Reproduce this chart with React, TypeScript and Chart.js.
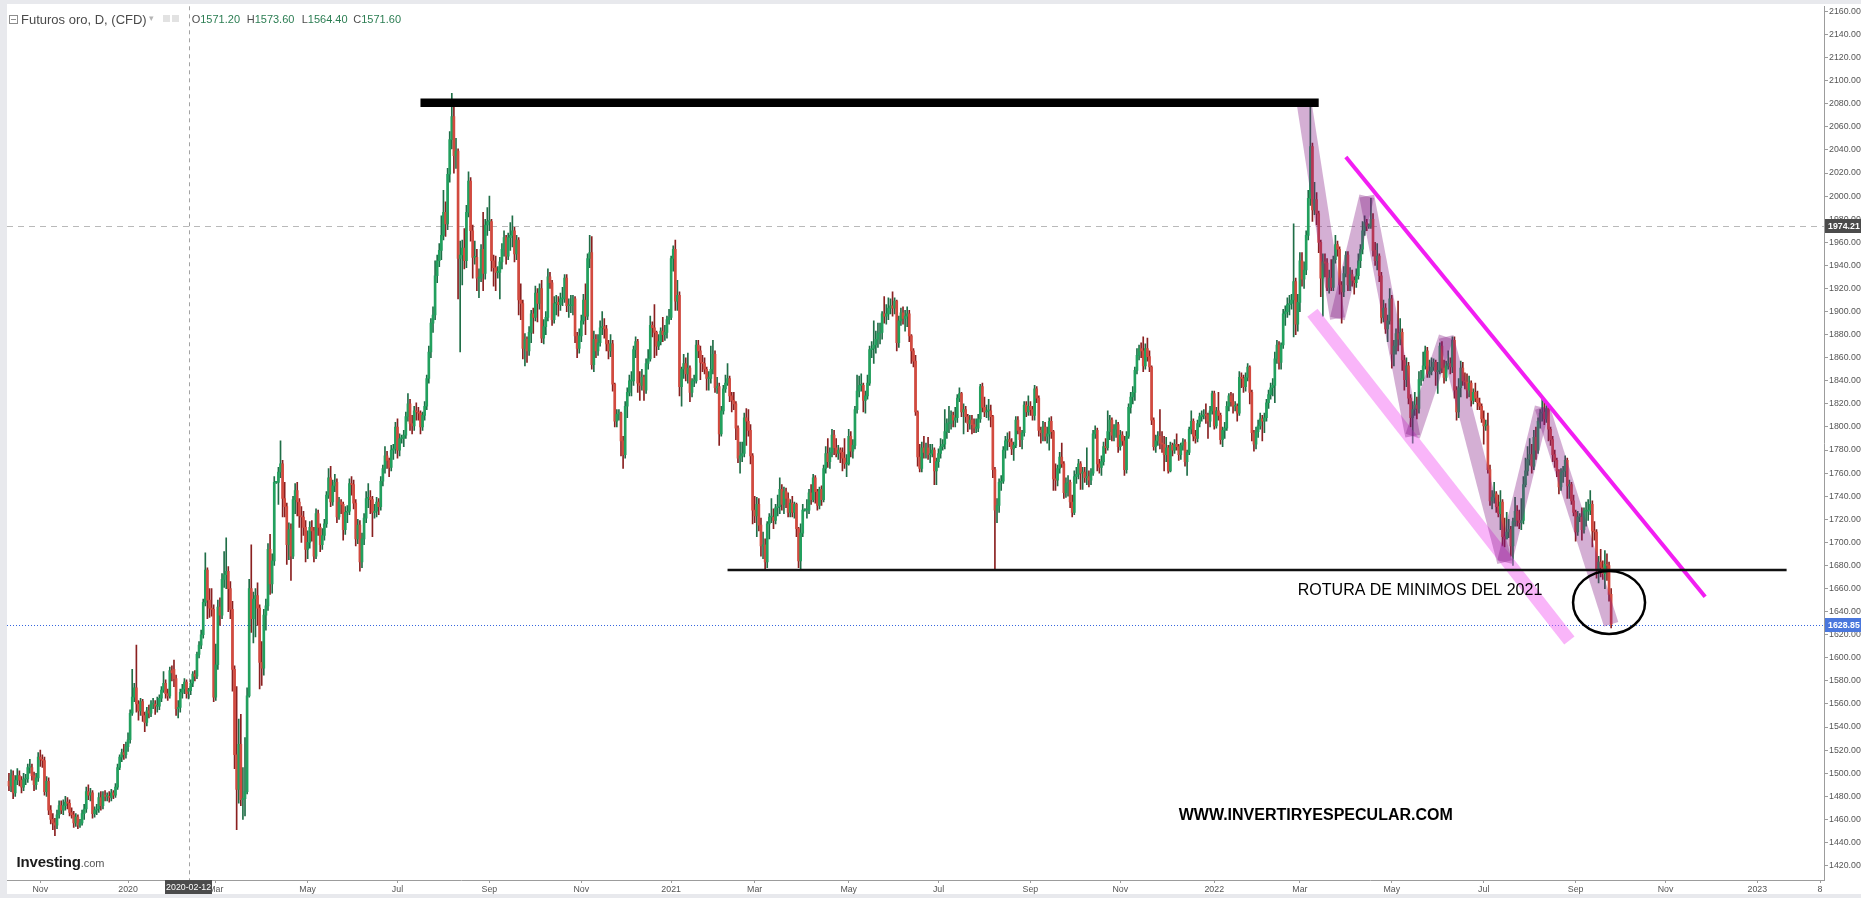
import React, { useEffect, useRef } from "react";
import { Chart, registerables } from "chart.js";

Chart.register(...registerables);

// ---------------- DATA (Futuros oro, D, CFD) ----------------
const FIRST_DAY = "2019-10-11";
const LAST_CALENDAR_DAY = "2023-03-31";

// 2019: Oct 11 .. Dec 31
const open2019 = [
  1493, 1489, 1498, 1483, 1494, 1498, 1494, 1488, 1495, 1495, 1505, 1505, 1498, 1490, 1496,
  1514, 1512, 1511, 1484, 1493, 1468, 1460, 1457, 1455, 1464, 1472, 1468, 1472, 1475, 1474, 1466, 1464, 1457, 1462, 1455, 1457,
  1465, 1469, 1484, 1481, 1483, 1465, 1468, 1469, 1479, 1472, 1481, 1480, 1480, 1479, 1483, 1481, 1488, 1505, 1514, 1518, 1516,
];
const high2019 = [
  1500, 1503, 1502, 1498, 1504, 1502, 1497, 1500, 1499, 1508, 1512, 1508, 1501, 1500, 1518,
  1520, 1516, 1514, 1497, 1496, 1472, 1465, 1461, 1468, 1476, 1476, 1477, 1480, 1479, 1477, 1470, 1467, 1465, 1464, 1460, 1468,
  1473, 1488, 1490, 1487, 1485, 1471, 1473, 1483, 1484, 1484, 1485, 1483, 1484, 1486, 1485, 1491, 1508, 1516, 1521, 1525, 1527,
];
const low2019 = [
  1485, 1484, 1478, 1480, 1490, 1489, 1483, 1485, 1490, 1492, 1500, 1494, 1485, 1486, 1493,
  1506, 1505, 1481, 1480, 1464, 1456, 1451, 1446, 1452, 1461, 1465, 1464, 1468, 1469, 1463, 1461, 1453, 1454, 1452, 1453, 1455,
  1460, 1466, 1477, 1476, 1461, 1462, 1464, 1466, 1468, 1469, 1476, 1476, 1475, 1476, 1478, 1479, 1486, 1503, 1510, 1512, 1513,
];
const close2019 = [
  1489, 1498, 1483, 1494, 1498, 1494, 1488, 1495, 1495, 1505, 1505, 1498, 1490, 1496, 1514,
  1512, 1511, 1484, 1493, 1468, 1460, 1457, 1455, 1464, 1472, 1468, 1472, 1475, 1474, 1466, 1464, 1457, 1462, 1455, 1457, 1465,
  1469, 1484, 1481, 1483, 1465, 1468, 1469, 1479, 1472, 1481, 1480, 1480, 1479, 1483, 1481, 1488, 1505, 1514, 1518, 1516, 1523,
];

// 2020
const open2020 = [
  1523, 1529, 1552, 1566, 1574, 1560, 1554, 1562, 1550, 1544, 1554, 1552, 1560, 1560, 1558, 1558, 1565, 1572, 1578, 1569, 1567, 1589,
  1590, 1582, 1556, 1557, 1570, 1573, 1579, 1571.2, 1571.6, 1578, 1586, 1584, 1603, 1611, 1620, 1648, 1676, 1650, 1643, 1642,
  1566, 1594, 1644, 1637, 1668, 1672, 1675, 1660, 1642, 1590, 1516, 1486, 1525, 1477, 1478, 1484, 1567, 1660, 1634, 1651, 1654, 1643,
  1596, 1591, 1637, 1645, 1694, 1664, 1684, 1752, 1752, 1761, 1768, 1738, 1731, 1698, 1711, 1688, 1737, 1745, 1735, 1723, 1722, 1713,
  1694, 1700, 1713, 1710, 1688, 1725, 1713, 1698, 1706, 1716, 1741, 1756, 1735, 1749, 1752, 1722, 1735, 1733, 1711, 1726, 1727,
  1751, 1750, 1734, 1703, 1715, 1683, 1703, 1721, 1738, 1739, 1737, 1726, 1727, 1735, 1731, 1753, 1764, 1775, 1771, 1765, 1780, 1781,
  1800, 1780, 1790, 1790, 1793, 1809, 1820, 1803, 1801, 1814, 1813, 1812, 1800, 1810, 1818, 1842, 1865, 1890, 1897, 1931, 1944, 1953, 1966,
  1986, 1976, 2019, 2049, 2069, 2035, 2039, 1946, 1949, 1955, 1944, 1986, 2013, 1970, 1947, 1947, 1929, 1929, 1954, 1933, 1975,
  1978, 1978, 1944, 1938, 1934, 1934, 1943, 1954, 1964, 1948, 1964, 1966, 1970, 1950, 1962, 1910, 1907, 1868, 1876, 1866, 1882, 1898,
  1895, 1916, 1907, 1920, 1877, 1887, 1895, 1930, 1925, 1893, 1907, 1908, 1906, 1911, 1911, 1929, 1905, 1905, 1905, 1911, 1879, 1868,
  1879, 1892, 1910, 1896, 1946, 1951, 1854, 1876, 1866, 1873, 1886, 1887, 1885, 1872, 1866, 1872, 1837, 1805, 1811, 1812, 1788,
  1776, 1818, 1830, 1840, 1840, 1867, 1874, 1838, 1836, 1843, 1832, 1855, 1859, 1888, 1886, 1882, 1870, 1874, 1883, 1880, 1882, 1893,
];
const high2020 = [
  1535, 1555, 1590, 1578, 1611, 1563, 1565, 1564, 1553, 1557, 1559, 1563, 1565, 1563, 1566, 1568, 1575, 1588, 1581, 1573, 1592, 1593,
  1598, 1585, 1563, 1573, 1577, 1582, 1581, 1573.6, 1581, 1588, 1589, 1605, 1614, 1624, 1651, 1691, 1678, 1660, 1660, 1646,
  1612, 1650, 1652, 1673, 1692, 1704, 1679, 1666, 1649, 1593, 1575, 1547, 1551, 1505, 1531, 1574, 1668, 1698, 1657, 1660, 1665, 1646,
  1614, 1642, 1651, 1699, 1707, 1690, 1757, 1753, 1765, 1788, 1771, 1752, 1734, 1717, 1716, 1740, 1751, 1752, 1738, 1731, 1727, 1719,
  1710, 1718, 1719, 1713, 1729, 1728, 1716, 1712, 1720, 1744, 1764, 1766, 1754, 1759, 1755, 1739, 1737, 1735, 1731, 1732, 1755,
  1757, 1754, 1737, 1720, 1719, 1708, 1725, 1744, 1751, 1745, 1740, 1733, 1739, 1738, 1757, 1767, 1783, 1779, 1773, 1784, 1785, 1804,
  1807, 1794, 1793, 1797, 1813, 1829, 1824, 1810, 1818, 1821, 1817, 1814, 1813, 1822, 1845, 1870, 1894, 1904, 1944, 1949, 1959, 1983, 2005,
  1995, 2024, 2056, 2089, 2077, 2050, 2041, 1961, 1962, 1972, 1992, 2021, 2016, 1975, 1961, 1954, 1937, 1958, 1986, 1980, 1990,
  2000, 1980, 1949, 1948, 1939, 1947, 1959, 1970, 1966, 1968, 1977, 1983, 1973, 1966, 1964, 1924, 1910, 1881, 1878, 1887, 1901, 1903,
  1922, 1920, 1924, 1927, 1893, 1900, 1937, 1934, 1927, 1913, 1914, 1913, 1916, 1921, 1932, 1932, 1911, 1914, 1914, 1913, 1882, 1885,
  1897, 1915, 1924, 1950, 1966, 1965, 1883, 1880, 1880, 1892, 1900, 1894, 1888, 1875, 1880, 1875, 1838, 1815, 1815, 1813, 1792,
  1822, 1834, 1845, 1848, 1870, 1878, 1876, 1848, 1850, 1845, 1859, 1867, 1896, 1891, 1906, 1883, 1880, 1886, 1895, 1888, 1896, 1902,
];
const low2020 = [
  1519, 1526, 1550, 1562, 1553, 1546, 1550, 1545, 1536, 1541, 1548, 1549, 1556, 1551, 1553, 1555, 1562, 1570, 1565, 1563, 1565, 1580,
  1575, 1550, 1548, 1553, 1565, 1569, 1565, 1564.4, 1568, 1575, 1580, 1582, 1600, 1608, 1617, 1645, 1634, 1635, 1636, 1562,
  1563, 1590, 1628, 1634, 1661, 1660, 1640, 1634, 1571, 1504, 1451, 1474, 1472, 1460, 1463, 1482, 1566, 1622, 1613, 1618, 1628, 1573,
  1576, 1585, 1624, 1641, 1655, 1656, 1680, 1751, 1733, 1756, 1722, 1722, 1681, 1685, 1667, 1686, 1725, 1723, 1713, 1700, 1706, 1683,
  1686, 1695, 1701, 1683, 1686, 1706, 1692, 1694, 1702, 1713, 1738, 1731, 1732, 1744, 1717, 1720, 1725, 1702, 1707, 1717, 1724,
  1741, 1729, 1697, 1699, 1675, 1678, 1698, 1717, 1730, 1725, 1705, 1721, 1722, 1724, 1728, 1749, 1760, 1764, 1757, 1762, 1772, 1777,
  1773, 1775, 1786, 1783, 1790, 1805, 1797, 1794, 1797, 1806, 1806, 1794, 1797, 1806, 1815, 1838, 1860, 1882, 1893, 1925, 1939, 1945, 1962,
  1965, 1971, 2012, 2041, 2020, 2024, 1911, 1865, 1923, 1937, 1938, 1982, 1961, 1929, 1941, 1918, 1912, 1926, 1918, 1928, 1966,
  1970, 1935, 1922, 1918, 1929, 1911, 1937, 1948, 1941, 1945, 1953, 1956, 1943, 1945, 1897, 1893, 1859, 1853, 1856, 1862, 1873, 1881,
  1892, 1891, 1902, 1873, 1872, 1880, 1892, 1920, 1888, 1890, 1897, 1896, 1901, 1905, 1908, 1900, 1895, 1899, 1897, 1873, 1860, 1864,
  1874, 1889, 1880, 1893, 1938, 1850, 1848, 1860, 1862, 1870, 1880, 1877, 1866, 1859, 1861, 1831, 1800, 1800, 1806, 1775, 1764,
  1773, 1808, 1827, 1827, 1836, 1860, 1830, 1823, 1832, 1823, 1829, 1850, 1857, 1878, 1860, 1862, 1867, 1871, 1874, 1875, 1877, 1889,
];
const close2020 = [
  1529, 1552, 1566, 1574, 1560, 1554, 1562, 1550, 1544, 1554, 1552, 1560, 1560, 1558, 1558, 1565, 1572, 1578, 1569, 1567, 1589, 1587,
  1582, 1556, 1557, 1570, 1573, 1579, 1569, 1571.6, 1578, 1586, 1584, 1603, 1611, 1620, 1648, 1676, 1650, 1643, 1642, 1566,
  1594, 1644, 1637, 1668, 1672, 1675, 1660, 1642, 1590, 1516, 1486, 1525, 1477, 1478, 1484, 1567, 1660, 1634, 1651, 1654, 1643, 1596,
  1591, 1637, 1645, 1694, 1664, 1684, 1752, 1752, 1761, 1768, 1738, 1731, 1698, 1711, 1688, 1737, 1745, 1735, 1723, 1722, 1713, 1694,
  1700, 1713, 1710, 1688, 1725, 1713, 1698, 1706, 1716, 1741, 1756, 1735, 1749, 1752, 1722, 1735, 1733, 1711, 1726, 1727, 1751,
  1750, 1734, 1703, 1715, 1683, 1703, 1721, 1738, 1739, 1737, 1726, 1727, 1735, 1731, 1753, 1764, 1775, 1771, 1765, 1780, 1781, 1800,
  1780, 1790, 1790, 1793, 1809, 1820, 1803, 1801, 1814, 1813, 1812, 1800, 1810, 1818, 1842, 1865, 1890, 1897, 1931, 1944, 1953, 1966, 1986,
  1976, 2019, 2049, 2069, 2035, 2039, 1946, 1949, 1955, 1944, 1986, 2013, 1970, 1947, 1947, 1929, 1929, 1954, 1933, 1975, 1978,
  1978, 1944, 1938, 1934, 1934, 1943, 1954, 1964, 1948, 1964, 1966, 1970, 1950, 1962, 1910, 1907, 1868, 1876, 1866, 1882, 1898, 1895,
  1916, 1907, 1920, 1877, 1887, 1895, 1930, 1925, 1893, 1907, 1908, 1906, 1911, 1911, 1929, 1905, 1905, 1905, 1911, 1879, 1868, 1879,
  1892, 1910, 1896, 1946, 1951, 1854, 1876, 1866, 1873, 1886, 1887, 1885, 1872, 1866, 1872, 1837, 1805, 1811, 1812, 1788, 1776,
  1818, 1830, 1840, 1840, 1867, 1874, 1838, 1836, 1843, 1832, 1855, 1859, 1888, 1886, 1882, 1870, 1874, 1883, 1880, 1882, 1893, 1895,
];

// 2021
const open2021 = [
  1895, 1946, 1954, 1909, 1914, 1835, 1850, 1855, 1846, 1851, 1830, 1840, 1840, 1871, 1866, 1856, 1855, 1850, 1842, 1842,
  1850, 1863, 1834, 1835, 1794, 1814, 1833, 1838, 1842, 1827, 1823, 1820, 1799, 1773, 1775, 1777, 1808, 1805, 1797, 1775,
  1728, 1723, 1733, 1715, 1697, 1698, 1683, 1716, 1722, 1722, 1719, 1730, 1731, 1746, 1733, 1744, 1738, 1726, 1734, 1726, 1733, 1712, 1684,
  1708, 1728, 1728, 1728, 1743, 1737, 1756, 1744, 1732, 1746, 1737, 1764, 1777, 1770, 1778, 1793, 1782, 1777, 1780, 1778, 1773, 1768,
  1768, 1792, 1779, 1784, 1815, 1831, 1836, 1836, 1823, 1827, 1838, 1867, 1868, 1871, 1876, 1881, 1882, 1898, 1896, 1898, 1903,
  1905, 1903, 1909, 1873, 1892, 1899, 1894, 1896, 1898, 1879, 1866, 1857, 1813, 1774, 1764, 1782, 1778, 1782, 1776, 1777, 1780, 1762,
  1770, 1777, 1783, 1785, 1796, 1803, 1803, 1810, 1806, 1808, 1825, 1829, 1813, 1815, 1809, 1803, 1806, 1802, 1799, 1799, 1807, 1835,
  1817, 1813, 1814, 1814, 1809, 1763, 1728, 1732, 1752, 1753, 1780, 1788, 1789, 1787, 1781, 1784, 1806, 1797, 1789, 1795, 1819, 1813,
  1818, 1815, 1810, 1833, 1825, 1797, 1795, 1800, 1792, 1794, 1805, 1796, 1755, 1754, 1764, 1774, 1768, 1743, 1751, 1752, 1735, 1726,
  1757, 1759, 1768, 1760, 1761, 1756, 1757, 1754, 1760, 1794, 1797, 1768, 1765, 1770, 1783, 1782, 1796, 1806, 1793, 1798, 1802,
  1783, 1793, 1788, 1763, 1792, 1817, 1826, 1830, 1849, 1862, 1868, 1866, 1853, 1868, 1861, 1852, 1806, 1783, 1788, 1792, 1786, 1785,
  1776, 1782, 1762, 1784, 1780, 1785, 1783, 1776, 1784, 1787, 1770, 1778, 1798, 1805, 1792, 1790, 1803, 1809, 1810, 1811, 1810, 1805, 1814,
];
const high2021 = [
  1948, 1957, 1962, 1927, 1917, 1852, 1863, 1860, 1864, 1853, 1842, 1845, 1875, 1875, 1870, 1862, 1860, 1852, 1848, 1870,
  1875, 1866, 1843, 1838, 1818, 1836, 1845, 1855, 1844, 1830, 1830, 1822, 1801, 1787, 1787, 1812, 1816, 1815, 1802, 1777,
  1740, 1739, 1738, 1721, 1709, 1703, 1718, 1725, 1738, 1729, 1733, 1741, 1756, 1750, 1748, 1747, 1743, 1737, 1740, 1735, 1734, 1713, 1716,
  1733, 1729, 1737, 1746, 1750, 1759, 1758, 1746, 1748, 1749, 1767, 1783, 1790, 1782, 1798, 1797, 1790, 1784, 1782, 1782, 1790, 1776,
  1798, 1796, 1789, 1818, 1845, 1844, 1846, 1838, 1831, 1845, 1870, 1874, 1892, 1883, 1890, 1890, 1900, 1913, 1906, 1912, 1911,
  1917, 1912, 1910, 1896, 1903, 1904, 1901, 1904, 1901, 1880, 1868, 1862, 1814, 1785, 1787, 1792, 1786, 1791, 1785, 1785, 1782, 1773,
  1781, 1790, 1789, 1815, 1807, 1818, 1814, 1813, 1817, 1828, 1834, 1830, 1820, 1818, 1811, 1810, 1810, 1807, 1807, 1811, 1837, 1838,
  1826, 1819, 1824, 1819, 1810, 1765, 1738, 1755, 1758, 1783, 1792, 1795, 1796, 1790, 1787, 1809, 1809, 1800, 1797, 1822, 1822, 1827,
  1822, 1818, 1836, 1835, 1827, 1800, 1805, 1804, 1800, 1808, 1809, 1797, 1768, 1767, 1778, 1786, 1770, 1756, 1758, 1754, 1741, 1762,
  1765, 1772, 1770, 1765, 1765, 1782, 1762, 1764, 1797, 1801, 1799, 1772, 1775, 1787, 1790, 1814, 1810, 1808, 1802, 1806, 1804,
  1797, 1796, 1792, 1796, 1820, 1830, 1835, 1852, 1868, 1871, 1873, 1878, 1872, 1877, 1866, 1853, 1808, 1793, 1796, 1815, 1796, 1792,
  1791, 1784, 1787, 1786, 1789, 1794, 1785, 1786, 1790, 1789, 1780, 1800, 1814, 1807, 1797, 1806, 1812, 1814, 1815, 1820, 1812, 1818, 1831,
];
const low2021 = [
  1893, 1935, 1901, 1901, 1827, 1818, 1842, 1840, 1838, 1822, 1826, 1835, 1838, 1860, 1841, 1848, 1846, 1832, 1832, 1838,
  1846, 1830, 1829, 1784, 1792, 1811, 1830, 1836, 1822, 1813, 1815, 1789, 1769, 1760, 1770, 1774, 1784, 1792, 1768, 1716,
  1717, 1705, 1710, 1688, 1686, 1676, 1678, 1703, 1717, 1712, 1716, 1723, 1725, 1728, 1725, 1730, 1722, 1722, 1722, 1721, 1705, 1678, 1677,
  1705, 1727, 1721, 1725, 1733, 1735, 1734, 1728, 1729, 1732, 1735, 1760, 1765, 1764, 1774, 1776, 1774, 1772, 1769, 1762, 1764, 1757,
  1767, 1774, 1773, 1781, 1812, 1826, 1831, 1813, 1812, 1824, 1836, 1860, 1855, 1864, 1869, 1872, 1876, 1890, 1889, 1893, 1898,
  1896, 1898, 1866, 1869, 1888, 1889, 1883, 1887, 1874, 1855, 1852, 1810, 1766, 1761, 1761, 1773, 1773, 1772, 1769, 1774, 1750, 1750,
  1765, 1773, 1780, 1781, 1790, 1795, 1798, 1800, 1800, 1804, 1822, 1809, 1794, 1804, 1796, 1798, 1794, 1795, 1795, 1796, 1804, 1813,
  1809, 1808, 1806, 1800, 1756, 1677, 1717, 1726, 1745, 1751, 1773, 1780, 1783, 1776, 1771, 1782, 1794, 1783, 1781, 1792, 1809, 1810,
  1810, 1806, 1806, 1821, 1792, 1786, 1788, 1788, 1786, 1780, 1790, 1745, 1745, 1749, 1760, 1765, 1738, 1739, 1740, 1730, 1722, 1724,
  1751, 1755, 1746, 1746, 1752, 1750, 1748, 1750, 1758, 1790, 1762, 1760, 1758, 1767, 1777, 1780, 1789, 1788, 1788, 1791, 1778,
  1780, 1784, 1758, 1760, 1790, 1812, 1820, 1823, 1846, 1858, 1860, 1848, 1850, 1857, 1848, 1802, 1780, 1778, 1784, 1781, 1778, 1762,
  1770, 1760, 1761, 1775, 1777, 1780, 1771, 1772, 1780, 1766, 1758, 1776, 1794, 1788, 1786, 1787, 1800, 1805, 1807, 1803, 1790, 1800, 1811,
];
const close2021 = [
  1946, 1954, 1909, 1914, 1835, 1850, 1855, 1846, 1851, 1830, 1840, 1840, 1871, 1866, 1856, 1855, 1850, 1842, 1842, 1850,
  1863, 1834, 1835, 1794, 1814, 1833, 1838, 1842, 1827, 1823, 1820, 1799, 1773, 1775, 1777, 1808, 1805, 1797, 1775, 1728,
  1723, 1733, 1715, 1697, 1698, 1683, 1716, 1722, 1722, 1719, 1730, 1731, 1746, 1733, 1744, 1738, 1726, 1734, 1726, 1733, 1712, 1684, 1708,
  1728, 1728, 1728, 1743, 1737, 1756, 1744, 1732, 1746, 1737, 1764, 1777, 1770, 1778, 1793, 1782, 1777, 1780, 1778, 1773, 1768, 1768,
  1792, 1779, 1784, 1815, 1831, 1836, 1836, 1823, 1827, 1838, 1867, 1868, 1871, 1876, 1881, 1882, 1898, 1896, 1898, 1903, 1905,
  1903, 1909, 1873, 1892, 1899, 1894, 1896, 1898, 1879, 1866, 1857, 1813, 1774, 1764, 1782, 1778, 1782, 1776, 1777, 1780, 1762, 1770,
  1777, 1783, 1785, 1796, 1803, 1803, 1810, 1806, 1808, 1825, 1829, 1813, 1815, 1809, 1803, 1806, 1802, 1799, 1799, 1807, 1835, 1817,
  1813, 1814, 1814, 1809, 1763, 1728, 1732, 1752, 1753, 1780, 1788, 1789, 1787, 1781, 1784, 1806, 1797, 1789, 1795, 1819, 1813, 1818,
  1815, 1810, 1833, 1825, 1797, 1795, 1800, 1792, 1794, 1805, 1796, 1755, 1754, 1764, 1774, 1768, 1743, 1751, 1752, 1735, 1726, 1757,
  1759, 1768, 1760, 1761, 1756, 1757, 1754, 1760, 1794, 1797, 1768, 1765, 1770, 1783, 1782, 1796, 1806, 1793, 1798, 1802, 1783,
  1793, 1788, 1763, 1792, 1817, 1826, 1830, 1849, 1862, 1868, 1866, 1853, 1868, 1861, 1852, 1806, 1783, 1788, 1792, 1786, 1785, 1776,
  1782, 1762, 1784, 1780, 1785, 1783, 1776, 1784, 1787, 1770, 1778, 1798, 1805, 1792, 1790, 1803, 1809, 1810, 1811, 1810, 1805, 1814, 1829,
];

// 2022: Jan 3 .. Sep 26
const open2022 = [
  1829, 1801, 1814, 1810, 1789, 1797, 1799, 1818, 1827, 1822, 1818, 1818, 1812, 1843, 1842, 1835, 1843, 1852, 1830, 1795, 1785,
  1796, 1801, 1807, 1805, 1808, 1821, 1828, 1834, 1836, 1859, 1871, 1856, 1871, 1898, 1900, 1906, 1907, 1910, 1926, 1889,
  1908, 1944, 1928, 1936, 1966, 1998, 2043, 1988, 1997, 1985, 1960, 1929, 1943, 1942, 1921, 1929, 1921, 1945, 1958, 1954, 1923, 1917, 1933,
  1949, 1923, 1932, 1927, 1925, 1931, 1944, 1954, 1970, 1977, 1974, 1974, 1980, 1953, 1944, 1948, 1931, 1895, 1903, 1885, 1892,
  1911, 1863, 1870, 1881, 1876, 1882, 1858, 1841, 1853, 1825, 1808, 1815, 1819, 1816, 1841, 1842, 1853, 1866, 1846, 1848, 1852, 1856,
  1848, 1849, 1870, 1851, 1843, 1853, 1855, 1852, 1875, 1832, 1813, 1834, 1851, 1840, 1839, 1832, 1838, 1823, 1830, 1825, 1821, 1818,
  1807, 1801, 1801, 1763, 1736, 1739, 1742, 1731, 1725, 1735, 1705, 1703, 1709, 1711, 1697, 1718, 1727, 1719, 1717, 1719, 1750,
  1762, 1772, 1776, 1766, 1791, 1780, 1805, 1812, 1813, 1807, 1816, 1798, 1789, 1776, 1771, 1762, 1748, 1761, 1762, 1771, 1749, 1750, 1736,
  1726, 1709, 1722, 1722, 1711, 1727, 1727, 1728, 1733, 1710, 1709, 1677, 1683, 1678, 1673, 1681, 1680, 1655,
];
const high2022 = [
  1831, 1817, 1830, 1812, 1800, 1804, 1822, 1829, 1830, 1829, 1822, 1820, 1848, 1847, 1845, 1847, 1855, 1853, 1832, 1797, 1800,
  1806, 1812, 1810, 1812, 1824, 1832, 1838, 1842, 1865, 1875, 1874, 1873, 1902, 1905, 1912, 1914, 1915, 1976, 1929, 1915,
  1951, 1951, 1943, 1970, 2005, 2078, 2046, 2012, 2003, 1987, 1962, 1950, 1950, 1946, 1936, 1945, 1948, 1966, 1961, 1956, 1926, 1939, 1952,
  1952, 1938, 1936, 1930, 1937, 1950, 1958, 1978, 1983, 1980, 1976, 1998, 1985, 1960, 1959, 1950, 1934, 1910, 1907, 1897, 1920,
  1914, 1875, 1885, 1909, 1894, 1885, 1862, 1860, 1856, 1828, 1822, 1830, 1826, 1848, 1849, 1865, 1870, 1869, 1858, 1860, 1859, 1858,
  1856, 1873, 1874, 1858, 1857, 1866, 1860, 1878, 1878, 1835, 1842, 1857, 1856, 1847, 1846, 1844, 1840, 1833, 1838, 1831, 1825, 1820,
  1814, 1806, 1812, 1767, 1745, 1752, 1744, 1741, 1745, 1737, 1721, 1726, 1720, 1714, 1721, 1739, 1732, 1728, 1738, 1757, 1773,
  1783, 1790, 1785, 1797, 1800, 1808, 1815, 1824, 1822, 1820, 1818, 1800, 1792, 1780, 1773, 1763, 1764, 1766, 1775, 1773, 1754, 1752, 1741,
  1728, 1727, 1725, 1730, 1730, 1735, 1737, 1745, 1736, 1718, 1711, 1688, 1694, 1684, 1693, 1690, 1683, 1660,
];
const low2022 = [
  1798, 1799, 1806, 1785, 1783, 1790, 1797, 1814, 1818, 1812, 1814, 1805, 1810, 1834, 1830, 1831, 1840, 1820, 1788, 1779, 1781,
  1791, 1798, 1788, 1795, 1805, 1816, 1824, 1827, 1821, 1855, 1850, 1850, 1868, 1888, 1895, 1897, 1902, 1878, 1880, 1883,
  1900, 1922, 1920, 1932, 1962, 1992, 1978, 1984, 1975, 1951, 1913, 1896, 1930, 1918, 1916, 1918, 1918, 1942, 1948, 1915, 1890, 1913, 1930,
  1918, 1918, 1922, 1915, 1921, 1928, 1938, 1950, 1966, 1970, 1972, 1972, 1948, 1940, 1936, 1926, 1890, 1891, 1881, 1874, 1889,
  1851, 1853, 1863, 1866, 1871, 1849, 1832, 1835, 1820, 1800, 1786, 1810, 1807, 1812, 1836, 1840, 1850, 1843, 1843, 1845, 1849, 1836,
  1829, 1846, 1847, 1838, 1840, 1850, 1846, 1847, 1825, 1806, 1808, 1826, 1836, 1833, 1825, 1826, 1818, 1820, 1822, 1815, 1815, 1804,
  1785, 1797, 1760, 1732, 1729, 1734, 1726, 1722, 1711, 1697, 1696, 1703, 1704, 1688, 1680, 1714, 1714, 1712, 1711, 1716, 1748,
  1758, 1767, 1760, 1763, 1772, 1777, 1799, 1805, 1802, 1804, 1788, 1784, 1770, 1765, 1757, 1742, 1745, 1752, 1757, 1738, 1738, 1733, 1723,
  1701, 1706, 1718, 1702, 1708, 1714, 1719, 1724, 1696, 1702, 1669, 1665, 1670, 1668, 1660, 1667, 1649, 1626,
];
const close2022 = [
  1801, 1814, 1810, 1789, 1797, 1799, 1818, 1827, 1822, 1818, 1818, 1812, 1843, 1842, 1835, 1843, 1852, 1830, 1795, 1785, 1796,
  1801, 1807, 1805, 1808, 1821, 1828, 1834, 1836, 1859, 1871, 1856, 1871, 1898, 1900, 1906, 1907, 1910, 1926, 1889, 1908,
  1944, 1928, 1936, 1966, 1998, 2043, 1988, 1997, 1985, 1960, 1929, 1943, 1942, 1921, 1929, 1921, 1945, 1958, 1954, 1923, 1917, 1933, 1949,
  1923, 1932, 1927, 1925, 1931, 1944, 1954, 1970, 1977, 1974, 1974, 1980, 1953, 1944, 1948, 1931, 1895, 1903, 1885, 1892, 1911,
  1863, 1870, 1881, 1876, 1882, 1858, 1841, 1853, 1825, 1808, 1815, 1819, 1816, 1841, 1842, 1853, 1866, 1846, 1848, 1852, 1856, 1848,
  1849, 1870, 1851, 1843, 1853, 1855, 1852, 1875, 1832, 1813, 1834, 1851, 1840, 1839, 1832, 1838, 1823, 1830, 1825, 1821, 1818, 1807,
  1801, 1801, 1763, 1736, 1739, 1742, 1731, 1725, 1735, 1705, 1703, 1709, 1711, 1697, 1718, 1727, 1719, 1717, 1719, 1750, 1762,
  1772, 1776, 1766, 1791, 1780, 1805, 1812, 1813, 1807, 1816, 1798, 1789, 1776, 1771, 1762, 1748, 1761, 1762, 1771, 1749, 1750, 1736, 1726,
  1709, 1722, 1722, 1711, 1727, 1727, 1728, 1733, 1710, 1709, 1677, 1683, 1678, 1673, 1681, 1680, 1655, 1628.85,
];

const opens = [...open2019, ...open2020, ...open2021, ...open2022];
const highs = [...high2019, ...high2020, ...high2021, ...high2022];
const lows = [...low2019, ...low2020, ...low2021, ...low2022];
const closes = [...close2019, ...close2020, ...close2021, ...close2022];

// axis tick labels
const monthTicks = [
  "2019-11", "2020-01", "2020-03", "2020-05", "2020-07", "2020-09", "2020-11",
  "2021-01", "2021-03", "2021-05", "2021-07", "2021-09", "2021-11",
  "2022-01", "2022-03", "2022-05", "2022-07", "2022-09", "2022-11", "2023-01",
];
const monthTickLabels = [
  "Nov", "2020", "Mar", "May", "Jul", "Sep", "Nov",
  "2021", "Mar", "May", "Jul", "Sep", "Nov",
  "2022", "Mar", "May", "Jul", "Sep", "Nov", "2023",
];
const edgeTickDate = "2023-02-13";
const edgeTickLabel = "8";
const priceTicks = [
  1420, 1440, 1460, 1480, 1500, 1520, 1540, 1560, 1580, 1600, 1620, 1640, 1660, 1680, 1700, 1720, 1740, 1760,
  1780, 1800, 1820, 1840, 1860, 1880, 1900, 1920, 1940, 1960, 1980, 2000, 2020, 2040, 2060, 2080, 2100, 2120, 2140, 2160,
];

// crosshair / markers
const crosshairDate = "2020-02-12";
const crosshairPrice = 1974.21;
const lastPrice = 1628.85;

// analyst drawings (date, price)
const resistanceDates = ["2020-07-16", "2022-03-14"];
const resistancePrice = 2081;
const supportDates = ["2021-02-10", "2023-01-20"];
const supportPrice = 1676;
const upperTrendDates = ["2022-03-31", "2022-11-28"];
const upperTrendPrices = [2034, 1653];
const lowerTrendDates = ["2022-03-09", "2022-08-29"];
const lowerTrendPrices = [1899, 1615];
const swingDates = ["2022-03-03", "2022-03-25", "2022-04-14", "2022-05-16", "2022-06-07", "2022-07-15", "2022-08-10", "2022-09-26"];
const swingPrices = [2081, 1894, 2000, 1792, 1878, 1683, 1817, 1629];
const breakDate = "2022-09-23";
const breakPrice = 1648;
const noteText = "ROTURA DE MINIMOS DEL 2021";
const noteDate = "2022-02-28";
const notePrice = 1658.5;
const siteText = "WWW.INVERTIRYESPECULAR.COM";
const siteDate = "2021-12-09";
const sitePrice = 1463;

// ---------------- calendar helpers ----------------
function buildCalendar(startIso: string, endIso: string): string[] {
  const out: string[] = [];
  const d = new Date(startIso + "T00:00:00Z");
  const end = new Date(endIso + "T00:00:00Z");
  while (d.getTime() <= end.getTime()) {
    const wd = d.getUTCDay();
    const m = d.getUTCMonth();
    const day = d.getUTCDate();
    const holiday = (m === 11 && day === 25) || (m === 0 && day === 1);
    if (wd !== 0 && wd !== 6 && !holiday) out.push(d.toISOString().slice(0, 10));
    d.setUTCDate(d.getUTCDate() + 1);
  }
  return out;
}
const calendar = buildCalendar(FIRST_DAY, LAST_CALENDAR_DAY);
function idxOf(iso: string): number {
  for (let i = 0; i < calendar.length; i++) if (calendar[i] >= iso) return i;
  return calendar.length - 1;
}

// ---------------- view / style ----------------
const W = 1861;
const H = 898;
const X_MIN = -0.94;
const X_MAX = 868.9;
const Y_MIN = 1407.5;
const Y_MAX = 2164.5;
const UP_BODY = "#22a05e";
const UP_WICK = "#1f6e47";
const DOWN_BODY = "#d24a3f";
const DOWN_WICK = "#8a2020";
const SANS = '"Liberation Sans", Arial, sans-serif';
const AXIS_FONT_SIZE = 8.8;

export default function App() {
  const canvasRef = useRef<HTMLCanvasElement | null>(null);

  const ci = idxOf(crosshairDate);
  const hdr = [
    ["O", opens[ci]],
    ["H", highs[ci]],
    ["L", lows[ci]],
    ["C", closes[ci]],
  ] as [string, number][];
  const hdrLeft = [191.7, 246.7, 301.7, 353.3];

  useEffect(() => {
    const canvas = canvasRef.current;
    if (!canvas) return;
    const n = Math.min(opens.length, highs.length, lows.length, closes.length);
    const wickData: any[] = [];
    const bodyData: any[] = [];
    const wickColors: string[] = [];
    const bodyColors: string[] = [];
    for (let i = 0; i < n; i++) {
      const o = opens[i];
      const c = closes[i];
      const hi = Math.max(highs[i], o, c);
      const lo = Math.min(lows[i], o, c);
      const up = c >= o;
      wickData.push({ x: i, y: [lo, hi] });
      bodyData.push({ x: i, y: [o, c] });
      wickColors.push(up ? UP_WICK : DOWN_WICK);
      bodyColors.push(up ? UP_BODY : DOWN_BODY);
    }

    const tickIdx = monthTicks.map((m) => idxOf(m + "-01"));
    const labelByIdx = new Map<number, string>();
    tickIdx.forEach((v, k) => labelByIdx.set(v, monthTickLabels[k]));
    const edgeIdx = idxOf(edgeTickDate);
    labelByIdx.set(edgeIdx, edgeTickLabel);
    const allTicks = [...tickIdx, edgeIdx];

    const pts = (dates: string[], prices: number[]) => dates.map((d, k) => ({ x: idxOf(d), y: prices[k] }));

    const overlay = {
      id: "overlay",
      beforeDraw(chart: any) {
        const { ctx } = chart;
        ctx.save();
        ctx.fillStyle = "#e8e9ed";
        ctx.fillRect(0, 0, W, H);
        ctx.fillStyle = "#ffffff";
        ctx.fillRect(7, 4, W - 7, 890);
        ctx.restore();
      },
      beforeDatasetsDraw(chart: any) {
        const { ctx, chartArea: a } = chart;
        const xs = chart.scales.x;
        const ys = chart.scales.y;
        ctx.save();
        ctx.lineWidth = 1;
        const yc = Math.round(ys.getPixelForValue(crosshairPrice)) + 0.5;
        ctx.strokeStyle = "#b9b9b9";
        ctx.setLineDash([6, 5]);
        ctx.beginPath();
        ctx.moveTo(a.left, yc);
        ctx.lineTo(a.right, yc);
        ctx.stroke();
        const xc = Math.round(xs.getPixelForValue(idxOf(crosshairDate))) + 0.5;
        ctx.strokeStyle = "#a3a3a3";
        ctx.setLineDash([4, 4]);
        ctx.beginPath();
        ctx.moveTo(xc, a.top);
        ctx.lineTo(xc, a.bottom);
        ctx.stroke();
        const yl = Math.round(ys.getPixelForValue(lastPrice)) + 0.5;
        ctx.strokeStyle = "#3566de";
        ctx.setLineDash([1, 2]);
        ctx.beginPath();
        ctx.moveTo(a.left, yl);
        ctx.lineTo(a.right, yl);
        ctx.stroke();
        ctx.restore();
      },
      afterDatasetsDraw(chart: any) {
        const { ctx } = chart;
        const xs = chart.scales.x;
        const ys = chart.scales.y;
        ctx.save();
        ctx.strokeStyle = "#000";
        ctx.lineWidth = 2.5;
        ctx.beginPath();
        ctx.ellipse(xs.getPixelForValue(idxOf(breakDate)), ys.getPixelForValue(breakPrice), 36, 31.5, 0, 0, Math.PI * 2);
        ctx.stroke();
        ctx.fillStyle = "#000";
        ctx.textBaseline = "middle";
        ctx.textAlign = "left";
        ctx.font = "16px " + SANS;
        ctx.fillText(noteText, xs.getPixelForValue(idxOf(noteDate)), ys.getPixelForValue(notePrice));
        ctx.font = "bold 16px " + SANS;
        ctx.fillText(siteText, xs.getPixelForValue(idxOf(siteDate)), ys.getPixelForValue(sitePrice));
        ctx.restore();
      },
      afterDraw(chart: any) {
        const { ctx, chartArea: a } = chart;
        const xs = chart.scales.x;
        const ys = chart.scales.y;
        ctx.save();
        const tag = (price: number, text: string, bg: string) => {
          const y = Math.round(ys.getPixelForValue(price));
          ctx.fillStyle = bg;
          ctx.fillRect(a.right + 1, y - 7, W - a.right - 1, 14);
          ctx.fillStyle = "#ffffff";
          ctx.font = "bold " + AXIS_FONT_SIZE + "px " + SANS;
          ctx.textBaseline = "middle";
          ctx.textAlign = "left";
          ctx.fillText(text, a.right + 4, y + 0.5);
        };
        tag(crosshairPrice, crosshairPrice.toFixed(2), "#4b4b4b");
        tag(lastPrice, lastPrice.toFixed(2), "#4a77dd");
        const xc = xs.getPixelForValue(idxOf(crosshairDate));
        ctx.fillStyle = "#4b4b4b";
        ctx.fillRect(Math.round(xc - 23.5), a.bottom, 47, 14);
        ctx.fillStyle = "#ffffff";
        ctx.font = AXIS_FONT_SIZE + "px " + SANS;
        ctx.textAlign = "center";
        ctx.textBaseline = "middle";
        ctx.fillText(crosshairDate, xc, a.bottom + 7.5);
        ctx.restore();
      },
    };

    const lineBase = {
      type: "line",
      pointRadius: 0,
      tension: 0,
      fill: false,
      borderCapStyle: "butt",
      borderJoinStyle: "bevel",
    };

    // each leg of the zigzag is its own stroke, so overlaps at the turns darken like the original drawing
    const swingLegs = swingDates.slice(0, -1).map((_, k) => ({
      ...lineBase,
      label: "zigzag " + (k + 1),
      data: pts([swingDates[k], swingDates[k + 1]], [swingPrices[k], swingPrices[k + 1]]),
      borderColor: "rgba(128, 20, 130, 0.34)",
      borderWidth: 15,
      order: 5,
    }));

    const chart = new Chart(canvas, {
      type: "bar",
      data: {
        datasets: [
          {
            type: "bar",
            label: "wick",
            data: wickData,
            backgroundColor: wickColors,
            barThickness: 1,
            grouped: false,
            order: 20,
          },
          {
            type: "bar",
            label: "body",
            data: bodyData,
            backgroundColor: bodyColors,
            barThickness: 2,
            minBarLength: 1,
            grouped: false,
            order: 19,
          },
          {
            ...lineBase,
            label: "canal inferior",
            data: pts(lowerTrendDates, lowerTrendPrices),
            borderColor: "rgba(242, 92, 242, 0.45)",
            borderWidth: 13,
            order: 6,
          },
          ...swingLegs,
          {
            ...lineBase,
            label: "canal superior",
            data: pts(upperTrendDates, upperTrendPrices),
            borderColor: "#f21ef2",
            borderWidth: 4,
            order: 4,
          },
          {
            ...lineBase,
            label: "soporte",
            data: pts(supportDates, [supportPrice, supportPrice]),
            borderColor: "#111111",
            borderWidth: 2.5,
            order: 3,
          },
          {
            ...lineBase,
            label: "resistencia",
            data: pts(resistanceDates, [resistancePrice, resistancePrice]),
            borderColor: "#000000",
            borderWidth: 8.5,
            order: 2,
          },
        ] as any,
      },
      options: {
        responsive: false,
        maintainAspectRatio: false,
        devicePixelRatio: 1,
        animation: false,
        events: [],
        layout: { padding: { left: 7, top: 4, right: 0, bottom: 4 } },
        plugins: { legend: { display: false }, tooltip: { enabled: false } },
        scales: {
          x: {
            type: "linear",
            min: X_MIN,
            max: X_MAX,
            offset: false,
            grid: { display: true, drawOnChartArea: false, drawTicks: true, tickLength: 3, color: "#9c9c9c", offset: false },
            border: { display: true, color: "#9c9c9c" },
            ticks: {
              autoSkip: false,
              maxRotation: 0,
              minRotation: 0,
              padding: 1,
              color: "#555555",
              font: { family: SANS, size: AXIS_FONT_SIZE },
              callback: (v: any) => labelByIdx.get(Number(v)) ?? "",
            },
            afterBuildTicks: (scale: any) => {
              scale.ticks = allTicks.map((v) => ({ value: v }));
            },
            afterFit: (scale: any) => {
              scale.height = 14;
            },
          },
          y: {
            type: "linear",
            position: "right",
            min: Y_MIN,
            max: Y_MAX,
            beginAtZero: false,
            grid: { display: true, drawOnChartArea: false, drawTicks: true, tickLength: 4, color: "#9c9c9c" },
            border: { display: true, color: "#9c9c9c" },
            ticks: {
              autoSkip: false,
              padding: 1,
              color: "#555555",
              font: { family: SANS, size: AXIS_FONT_SIZE },
              callback: (v: any) => Number(v).toFixed(2),
            },
            afterBuildTicks: (scale: any) => {
              scale.ticks = priceTicks.map((v) => ({ value: v }));
            },
            afterFit: (scale: any) => {
              scale.width = 37;
            },
          },
        },
      } as any,
      plugins: [overlay as any],
    });

    return () => chart.destroy();
  }, []);

  return (
    <div style={{ position: "fixed", left: 0, top: 0, width: W, height: H, overflow: "hidden", background: "#fff" }}>
      <canvas ref={canvasRef} width={W} height={H} style={{ position: "absolute", left: 0, top: 0, width: W, height: H }} />
      {/* header */}
      <div
        style={{
          position: "absolute",
          left: 9,
          top: 15,
          width: 9,
          height: 9,
          border: "1px solid #8d8d8d",
          boxSizing: "border-box",
          background: "#fff",
        }}
      >
        <div style={{ position: "absolute", left: 1, right: 1, top: 3, height: 1, background: "#8d8d8d" }} />
      </div>
      <span
        style={{
          position: "absolute",
          left: 21,
          top: 11.5,
          font: "13px " + SANS,
          color: "#4a4a4a",
          whiteSpace: "nowrap",
          lineHeight: "normal",
        }}
      >
        Futuros oro, D, (CFD)
      </span>
      <span style={{ position: "absolute", left: 149, top: 13, font: "9px " + SANS, color: "#b5b5b5", lineHeight: "normal" }}>
        ▾
      </span>
      <div style={{ position: "absolute", left: 163, top: 15, width: 7, height: 7, background: "#e2e2e2" }} />
      <div style={{ position: "absolute", left: 172, top: 15, width: 7, height: 7, background: "#e2e2e2" }} />
      {hdr.map(([k, v], i) => (
        <span
          key={k}
          style={{
            position: "absolute",
            left: hdrLeft[i],
            top: 13,
            font: "11px " + SANS,
            whiteSpace: "nowrap",
            lineHeight: "normal",
          }}
        >
          <span style={{ color: "#4d4d4d" }}>{k}</span>
          <span style={{ color: "#2b7d52" }}>{v.toFixed(2)}</span>
        </span>
      ))}
      {/* Investing.com logo */}
      <div
        style={{
          position: "absolute",
          left: 16.6,
          top: 853,
          font: "bold 15px " + SANS,
          color: "#1b1b1b",
          whiteSpace: "nowrap",
          lineHeight: "normal",
          letterSpacing: "-0.2px",
        }}
      >
        Investing
        <span style={{ fontWeight: "normal", fontSize: 11, color: "#555", letterSpacing: 0 }}>.com</span>
      </div>
    </div>
  );
}
